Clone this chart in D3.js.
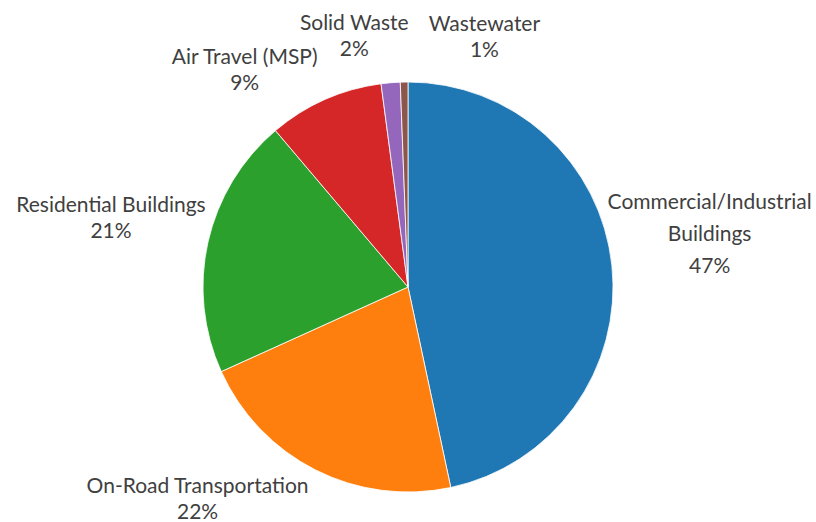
<!DOCTYPE html>
<html>
<head>
<meta charset="utf-8">
<script src="https://cdn.jsdelivr.net/npm/d3@7"></script>
<style>
  body { margin: 0; background: #fff; }
  text { font-family: Lato, "Open Sans", sans-serif; fill: #404040; }
</style>
</head>
<body>
<div id="chart"></div>
<script>
// data ------
categories = ['Commercial/Industrial Buildings', 'On-Road Transportation', 'Residential Buildings', 'Air Travel (MSP)', 'Solid Waste', 'Wastewater'];
labelLines = [['Commercial/Industrial', 'Buildings'], ['On-Road Transportation'], ['Residential Buildings'], ['Air Travel (MSP)'], ['Solid Waste'], ['Wastewater']];
shares = [46.7, 21.6, 20.6, 9.1, 1.5, 0.6];
colors = ['#1f77b4', '#ff7f0e', '#2ca02c', '#d62728', '#9467bd', '#8c564b'];

width = 816;
height = 522;
cx = 408;
cy = 287;
radius = 205;

// label layout tweaks (Excel "best fit" moves the small ones apart)
labelNudge = [[58, -29], [-100, -8], [-58, -17], [-64, 5], [-33, -8], [81, -7]];

data = categories.map((c, i) => ({ name: c, value: shares[i], lines: labelLines[i], color: colors[i], i: i }));

var svg = d3
  .select('#chart')
  .append('svg')
  .attr('width', width)
  .attr('height', height)
  .attr('viewBox', [0, 0, width, height]);

pie = d3.pie().sort(null).value((d) => d.value);
arc = d3.arc().innerRadius(0).outerRadius(radius);
labelArc = d3.arc().innerRadius(radius + 40).outerRadius(radius + 40);

arcs = pie(data);

g = svg.append('g').attr('transform', `translate(${cx},${cy})`);

g.selectAll('path')
  .data(arcs)
  .join('path')
  .attr('d', arc)
  .attr('fill', (d) => d.data.color)
  .attr('stroke', '#fff')
  .attr('stroke-width', 0.8);

lineH = 26;

labels = g
  .selectAll('g.label')
  .data(arcs)
  .join('g')
  .attr('class', 'label')
  .attr('transform', (d) => {
    var p = labelArc.centroid(d);
    var n = labelNudge[d.data.i];
    return `translate(${p[0] + n[0]},${p[1] + n[1]})`;
  });

labels.each(function (d) {
  var lines = d.data.lines.concat([Math.round(d.data.value) + '%']);
  var lh = lines.length > 2 ? 32 : lineH;
  var top = -((lines.length - 1) * lh) / 2;
  d3.select(this)
    .selectAll('text')
    .data(lines)
    .join('text')
    .attr('text-anchor', 'middle')
    .attr('dominant-baseline', 'central')
    .attr('y', (t, k) => top + k * lh)
    .style('font-size', '21px')
    .text((t) => t);
});
</script>
</body>
</html>
